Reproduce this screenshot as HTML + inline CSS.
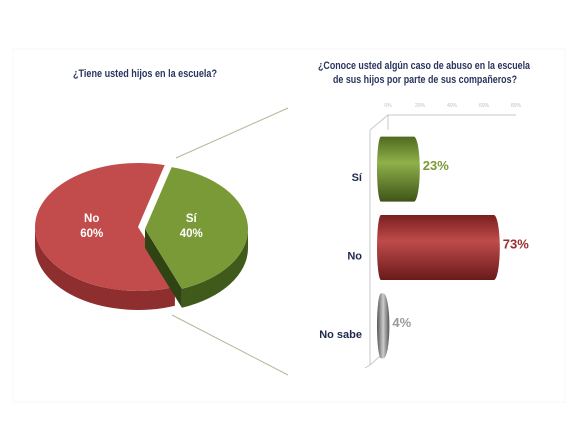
<!DOCTYPE html>
<html><head><meta charset="utf-8"><style>
html,body{margin:0;padding:0;background:#fff;}
svg{display:block;font-family:"Liberation Sans",sans-serif;}
</style></head><body>
<svg width="577" height="433" viewBox="0 0 577 433">
<defs>
<linearGradient id="gG" x1="0" y1="0" x2="0" y2="1"><stop offset="0" stop-color="#4f6a1f"/><stop offset=".4" stop-color="#8fb04a"/><stop offset="1" stop-color="#3e5418"/></linearGradient>
<linearGradient id="gR" x1="0" y1="0" x2="0" y2="1"><stop offset="0" stop-color="#7a1f1f"/><stop offset=".4" stop-color="#bf4b4b"/><stop offset="1" stop-color="#6a1a1a"/></linearGradient>
<linearGradient id="gS" x1="0" y1="0" x2="1" y2="0"><stop offset="0" stop-color="#555"/><stop offset=".5" stop-color="#ccc"/><stop offset="1" stop-color="#555"/></linearGradient>
</defs>
<rect x="13" y="49" width="552" height="353" fill="none" stroke="#f5f7f5"/>
<text x="73" y="77" textLength="144" lengthAdjust="spacingAndGlyphs" font-size="11" font-weight="bold" fill="#2a3560">¿Tiene usted hijos en la escuela?</text>
<text x="318" y="69" textLength="212" lengthAdjust="spacingAndGlyphs" font-size="11" font-weight="bold" fill="#2a3560">¿Conoce usted algún caso de abuso en la escuela</text>
<text x="333" y="83" textLength="184" lengthAdjust="spacingAndGlyphs" font-size="11" font-weight="bold" fill="#2a3560">de sus hijos por parte de sus compañeros?</text>
<line x1="176" y1="158" x2="288" y2="108" stroke="#b9b59a"/>
<line x1="172" y1="315" x2="288" y2="375" stroke="#b9b59a"/>
<g id="pie"></g>
<g id="bars"></g>
</svg>
<script>
const pieCats=["No","Sí"];
const pieVals=[60,40];
const barCats=["Sí","No","No sabe"];
const barVals=[23,73,4];
const barTicks=["0%","20%","40%","60%","80%"];
const NS="http://www.w3.org/2000/svg";
function mk(p,t,a){const e=document.createElementNS(NS,t);for(const k in a)e.setAttribute(k,a[k]);p.appendChild(e);return e;}
// pie
const pie=document.getElementById('pie');
const cx=138,cy=227,rx=103,ry=64,dep=19;
const topCols=["#c24c4c","#7a9a38"],sideCols=["#8e2e2e","#3f5a1a"],labCols=["#fff","#fff"];
const tot=pieVals.reduce((a,b)=>a+b,0);
const greenStart=-75;
const angs=[];const a0=greenStart+360*pieVals[1]/tot;
angs[0]=[a0,a0+360*pieVals[0]/tot];
angs[1]=[greenStart,greenStart+360*pieVals[1]/tot];
const offs=[[0,0],[7,2]];
function pt(a,ox,oy,dy){const r=a*Math.PI/180;return [cx+ox+rx*Math.cos(r),cy+oy+ry*Math.sin(r)+(dy||0)];}
[0,1].forEach(i=>{
 const s=angs[i][0],e=angs[i][1],ox=offs[i][0],oy=offs[i][1];
 let d="";
 if(i==0){
   const s2=Math.max(s,0), e2=180;
   const p1=pt(s2,ox,oy),p2=pt(e2,ox,oy),p3=pt(e2,ox,oy,dep),p4=pt(s2,ox,oy,dep);
   d=`M${p1}A${rx},${ry} 0 0 1 ${p2}L${p3}A${rx},${ry} 0 0 0 ${p4}Z`;
 } else {
   const p1=pt(0,ox,oy),p2=pt(e,ox,oy),p3=pt(e,ox,oy,dep),p4=pt(0,ox,oy,dep);
   d=`M${p1}A${rx},${ry} 0 0 1 ${p2}L${p3}A${rx},${ry} 0 0 0 ${p4}Z`;
   const c=[cx+ox,cy+oy],pe=pt(e,ox,oy);
   const w=mk(pie,'path',{d:`M${c}L${pe}L${pe[0]},${pe[1]+dep}L${c[0]},${c[1]+dep}Z`,fill:"#2f4412"});
   
   
 }
 const sd=mk(pie,'path',{d:d,fill:sideCols[i]});
 
 
 const p1=pt(s,ox,oy),p2=pt(e,ox,oy),large=(e-s)>180?1:0;
 const tp=mk(pie,'path',{d:`M${cx+ox},${cy+oy}L${p1}A${rx},${ry} 0 ${large} 1 ${p2}Z`,fill:topCols[i]});
 
 
 const m=(s+e)/2*Math.PI/180;
 const lx=cx+ox+rx*0.45*Math.cos(m),ly=cy+oy+ry*0.3*Math.sin(m);
 const t=mk(pie,'text',{x:lx,y:ly-6,"text-anchor":"middle","font-size":"11.5","font-weight":"bold",fill:labCols[i]});
 t.textContent=pieCats[i];
 
 
 const t2=mk(pie,'text',{x:lx,y:ly+9,"text-anchor":"middle","font-size":"11.5","font-weight":"bold",fill:labCols[i]});
 t2.textContent=pieVals[i]+"%";
 
 
});
// bars
const bg=document.getElementById('bars');
const x0=388,tickPx=1.6,axY=115,wallX=370,wallTop=130,wallBot=365;
function xt(v){return x0+v*tickPx;}
const barX0=377,pxPer=1.6;
function xs(v){return barX0+v*pxPer;}
const ax=mk(bg,'path',{d:`M${xt(0)},${axY}H${xt(80)}M${wallX},${wallTop}L${xt(0)},${axY}V${wallTop}M${wallX},${wallTop}V${wallBot}L${wallX-5},${wallBot+3}M${wallX},${wallBot}L${xt(0)},${wallBot-16}`,stroke:"#c8c8c8",fill:"none"});


barTicks.forEach((tk,i)=>{
 const t=mk(bg,'text',{x:xt(i*20),y:axY-8,"text-anchor":"middle","font-size":"5",fill:"#c0c0c0"});
 t.textContent=tk;
 
 
});
const fills=["url(#gG)","url(#gR)","url(#gS)"],lc=["#7a9a38","#9a2e2e","#9a9a9a"];
const bandH=(wallBot-wallTop)/3;
barVals.forEach((v,i)=>{
 const yc=wallTop+bandH*(i+0.5),h=65,y=yc-h/2;
 const xL=xs(0),xR=xs(v);
 const b=mk(bg,'path',{d:`M${xL+4},${y}H${xR}A6,${h/2} 0 0 1 ${xR},${y+h}H${xL+4}A4,${h/2} 0 0 1 ${xL+4},${y}Z`,fill:fills[i]});
 
 
 const t=mk(bg,'text',{x:xR+9,y:yc+1,"font-size":"13","font-weight":"bold",fill:lc[i]});
 t.textContent=barVals[i]+"%";
 
 
 const c=mk(bg,'text',{x:362,y:yc+12,"text-anchor":"end","font-size":"11","font-weight":"bold",fill:"#1f2a4a"});
 c.textContent=barCats[i];
 
 
});
</script>
</body></html>
